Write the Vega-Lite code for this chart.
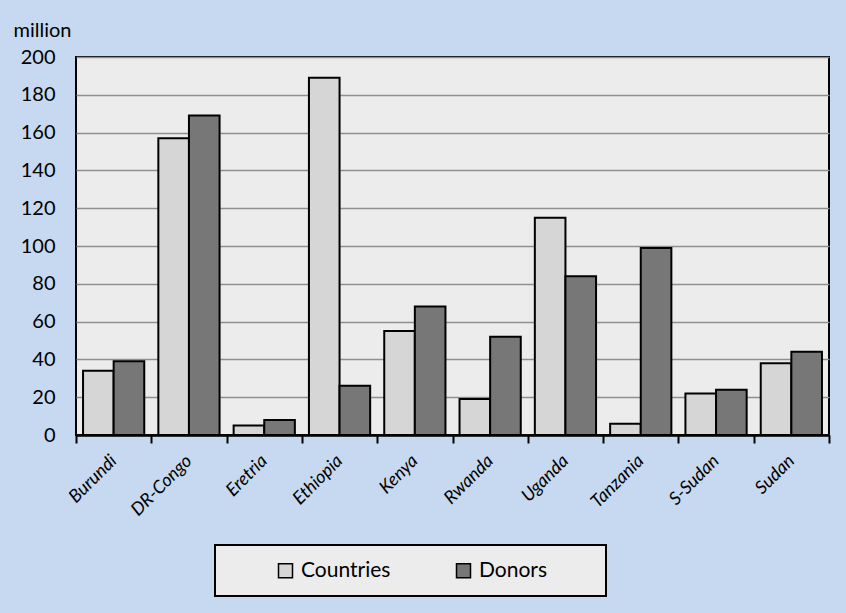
{
  "$schema": "https://vega.github.io/schema/vega-lite/v6.json",
  "width": 753,
  "height": 378,
  "autosize": {"type": "none"},
  "padding": {"left": 76, "top": 57, "right": 17, "bottom": 178},
  "background": "#c6d9f0",
  "data": {
    "values": [
      {"country": "Burundi", "series": "Countries", "value": 34},
      {"country": "Burundi", "series": "Donors", "value": 39},
      {"country": "DR-Congo", "series": "Countries", "value": 157},
      {"country": "DR-Congo", "series": "Donors", "value": 169},
      {"country": "Eretria", "series": "Countries", "value": 5},
      {"country": "Eretria", "series": "Donors", "value": 8},
      {"country": "Ethiopia", "series": "Countries", "value": 189},
      {"country": "Ethiopia", "series": "Donors", "value": 26},
      {"country": "Kenya", "series": "Countries", "value": 55},
      {"country": "Kenya", "series": "Donors", "value": 68},
      {"country": "Rwanda", "series": "Countries", "value": 19},
      {"country": "Rwanda", "series": "Donors", "value": 52},
      {"country": "Uganda", "series": "Countries", "value": 115},
      {"country": "Uganda", "series": "Donors", "value": 84},
      {"country": "Tanzania", "series": "Countries", "value": 6},
      {"country": "Tanzania", "series": "Donors", "value": 99},
      {"country": "S-Sudan", "series": "Countries", "value": 22},
      {"country": "S-Sudan", "series": "Donors", "value": 24},
      {"country": "Sudan", "series": "Countries", "value": 38},
      {"country": "Sudan", "series": "Donors", "value": 44}
    ]
  },
  "mark": {"type": "bar", "stroke": "black", "strokeWidth": 2},
  "encoding": {
    "x": {
      "field": "country",
      "type": "nominal",
      "sort": null,
      "scale": {"paddingInner": 0, "paddingOuter": 0},
      "axis": {
        "title": null,
        "labelAngle": -45,
        "labelAlign": "right",
        "labelBaseline": "middle",
        "labelFont": "Lato",
        "labelFontStyle": "italic",
        "labelFontSize": 18,
        "labelColor": "black",
        "labelPadding": 15,
        "tickBand": "extent",
        "ticks": true,
        "tickSize": 8,
        "tickColor": "black",
        "tickWidth": 2,
        "domainColor": "black",
        "domainWidth": 2.5,
        "grid": false
      }
    },
    "xOffset": {
      "field": "series",
      "sort": ["Countries", "Donors"],
      "scale": {"paddingInner": 0, "paddingOuter": 0.23}
    },
    "y": {
      "field": "value",
      "type": "quantitative",
      "scale": {"domain": [0, 200]},
      "axis": {
        "title": "million",
        "titleAngle": 0,
        "titleAlign": "left",
        "titleBaseline": "middle",
        "titleX": -63,
        "titleY": -27,
        "titleFont": "Lato",
        "titleFontSize": 20,
        "titleFontWeight": "normal",
        "titleColor": "black",
        "values": [0, 20, 40, 60, 80, 100, 120, 140, 160, 180, 200],
        "labelFont": "Lato",
        "labelFontSize": 20,
        "labelColor": "black",
        "labelPadding": 21,
        "ticks": false,
        "domain": false,
        "grid": true,
        "gridColor": "#8f8f8f",
        "gridWidth": 1.5
      }
    },
    "color": {
      "field": "series",
      "type": "nominal",
      "scale": {"domain": ["Countries", "Donors"], "range": ["#d6d6d6", "#777777"]},
      "legend": {
        "title": "\u00a0",
        "titleOrient": "right",
        "titlePadding": 44,
        "titleFontSize": 6,
        "orient": "none",
        "legendX": 139,
        "legendY": 488,
        "direction": "horizontal",
        "columns": 2,
        "gridAlign": "each",
        "fillColor": "#ececec",
        "strokeColor": "black",
        "padding": 15,
        "symbolType": "square",
        "symbolSize": 196,
        "symbolStrokeColor": "black",
        "symbolStrokeWidth": 1.5,
        "symbolOffset": 45,
        "labelOffset": 5,
        "labelFont": "Lato",
        "labelFontSize": 21,
        "labelColor": "black",
        "columnPadding": 17
      }
    }
  },
  "config": {
    "view": {"fill": "#ececec", "stroke": "black", "strokeWidth": 2},
    "legend": {"strokeWidth": 2}
  }
}
